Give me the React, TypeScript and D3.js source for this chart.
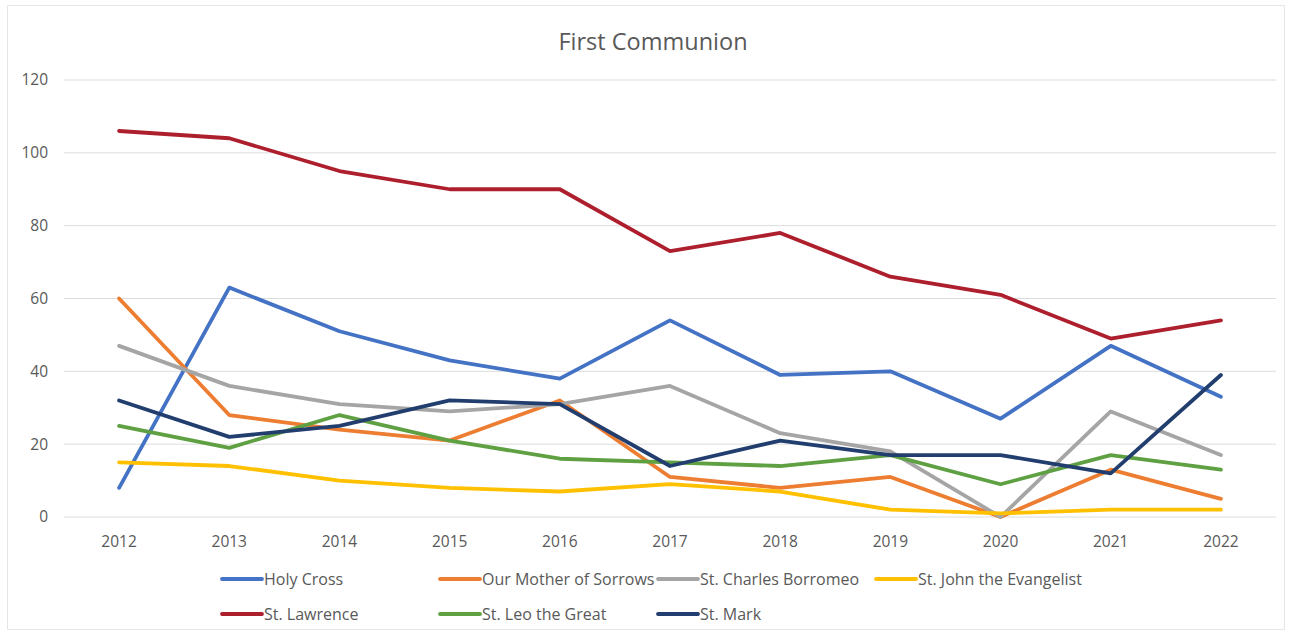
import React from "react";
import * as d3 from "d3";

const years = ["2012", "2013", "2014", "2015", "2016", "2017", "2018", "2019", "2020", "2021", "2022"];
const yTicks = [0, 20, 40, 60, 80, 100, 120];

const holyCross = [8, 63, 51, 43, 38, 54, 39, 40, 27, 47, 33];
const ourMother = [60, 28, 24, 21, 32, 11, 8, 11, 0, 13, 5];
const stCharles = [47, 36, 31, 29, 31, 36, 23, 18, 0, 29, 17];
const stJohn = [15, 14, 10, 8, 7, 9, 7, 2, 1, 2, 2];
const stLawrence = [106, 104, 95, 90, 90, 73, 78, 66, 61, 49, 54];
const stLeo = [25, 19, 28, 21, 16, 15, 14, 17, 9, 17, 13];
const stMark = [32, 22, 25, 32, 31, 14, 21, 17, 17, 12, 39];

const seriesNames = [
  "Holy Cross",
  "Our Mother of Sorrows",
  "St. Charles Borromeo",
  "St. John the Evangelist",
  "St. Lawrence",
  "St. Leo the Great",
  "St. Mark",
];
const seriesValues = [holyCross, ourMother, stCharles, stJohn, stLawrence, stLeo, stMark];
const seriesColors = ["#4472C4", "#ED7D31", "#A5A5A5", "#FFC000", "#AE1F2E", "#5FA043", "#223E6E"];

const W = 1290;
const H = 635;
const FONT = "'Open Sans', 'Liberation Sans', sans-serif";
const TEXT = "#595959";

export default function App() {
  const x = d3.scalePoint<string>().domain(years).range([64, 1276]).padding(0.5);
  const y = d3.scaleLinear().domain([0, 120]).range([517, 80]);
  const line = d3
    .line<number>()
    .x((_, i) => x(years[i]) as number)
    .y((d) => y(d));

  const legendCols = [222, 440, 658, 876];
  const legendRows = [579, 614];

  return (
    <div style={{ position: "absolute", left: 0, top: 0 }}>
      <svg width={W} height={H} style={{ display: "block", background: "#fff" }}>
        <rect x={7.5} y={5.5} width={1277} height={624} fill="#fff" stroke="#e6e6e6" strokeWidth={1} />
        <text x={653} y={50} textAnchor="middle" fontFamily={FONT} fontSize={23.5} fill={TEXT}>
          First Communion
        </text>
        {yTicks.map((t) => (
          <g key={t}>
            <line x1={64} x2={1276} y1={y(t)} y2={y(t)} stroke="#dcdcdc" strokeWidth={1} />
            <text x={48} y={y(t)} dy="0.35em" textAnchor="end" fontFamily={FONT} fontSize={15.5} fill={TEXT}>
              {t}
            </text>
          </g>
        ))}
        {years.map((yr) => (
          <text key={yr} x={x(yr)} y={547} textAnchor="middle" fontFamily={FONT} fontSize={15.5} fill={TEXT}>
            {yr}
          </text>
        ))}
        {seriesValues.map((vals, i) => (
          <path
            key={seriesNames[i]}
            d={line(vals) || ""}
            fill="none"
            stroke={seriesColors[i]}
            strokeWidth={3.8}
            strokeLinejoin="round"
            strokeLinecap="round"
          />
        ))}
        {seriesNames.map((name, i) => {
          const lx = legendCols[i % 4];
          const ly = legendRows[Math.floor(i / 4)];
          return (
            <g key={name}>
              <line x1={lx} x2={lx + 40} y1={ly} y2={ly} stroke={seriesColors[i]} strokeWidth={3.8} strokeLinecap="round" />
              <text x={lx + 42} y={ly} dy="0.35em" fontFamily={FONT} fontSize={16} fill={TEXT}>
                {name}
              </text>
            </g>
          );
        })}
      </svg>
    </div>
  );
}
